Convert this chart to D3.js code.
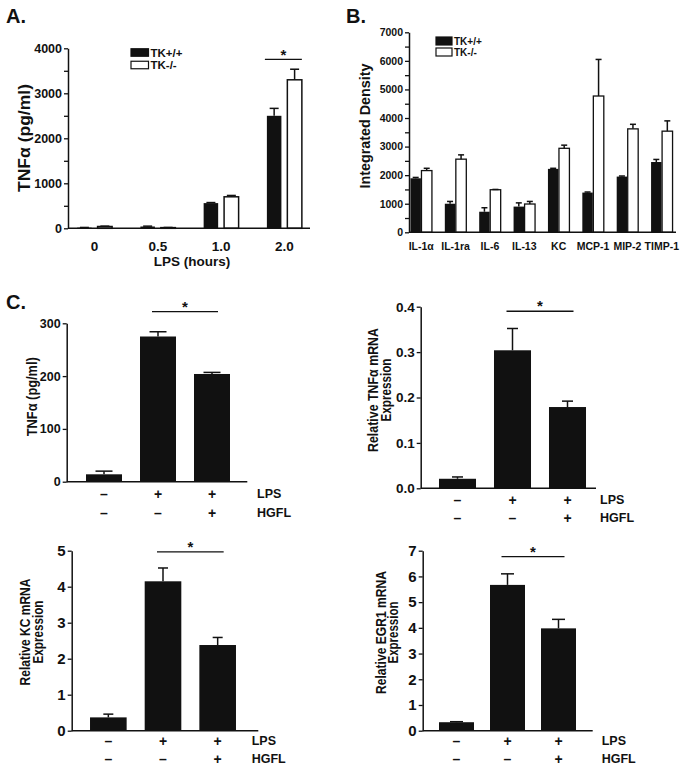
<!DOCTYPE html>
<html><head><meta charset="utf-8">
<script src="https://cdn.jsdelivr.net/npm/d3@7"></script>
<style>
html,body{margin:0;padding:0;background:#fff;}
svg{display:block;}
text{font-family:Arial,'Liberation Sans',Helvetica,sans-serif;font-weight:bold;fill:#111;}
</style></head>
<body>
<svg id="fig" width="686" height="772"></svg>
<script>
// ---------- DATA ----------
// Panel A
const aCategories = ["0", "0.5", "1.0", "2.0"];
const aSeries = ["TK+/+", "TK-/-"];
const aWT = [15, 40, 560, 2500];
const aWTErr = [4, 8, 12, 165];
const aKO = [40, 15, 700, 3300];
const aKOErr = [8, 4, 30, 235];
const aYTicks = [0, 1000, 2000, 3000, 4000];
const aYMinor = [500, 1500, 2500, 3500];
const aSig = [3756];

// Panel B
const bCategories = ["IL-1α", "IL-1ra", "IL-6", "IL-13", "KC", "MCP-1", "MIP-2", "TIMP-1"];
const bWT = [1890, 1000, 720, 900, 2220, 1390, 1950, 2460];
const bWTErr = [30, 80, 140, 130, 20, 20, 20, 90];
const bKO = [2160, 2560, 1490, 990, 2940, 4770, 3620, 3540];
const bKOErr = [80, 150, 10, 90, 110, 1280, 160, 360];
const bYTicks = [0, 1000, 2000, 3000, 4000, 5000, 6000, 7000];
const bYMinor = [500, 1500, 2500, 3500, 4500, 5500, 6500];

// Panel C
const cLPS = ["–", "+", "+"];
const cHGFL = ["–", "–", "+"];
const c1Values = [14, 275, 204];
const c1Err = [6, 9, 3];
const c1Ticks = [0, 100, 200, 300];
const c1Sig = [322];
const c2Values = [0.021, 0.304, 0.179];
const c2Err = [0.004, 0.048, 0.013];
const c2Ticks = [0.0, 0.1, 0.2, 0.3, 0.4];
const c2Sig = [0.39];
const c3Values = [0.37, 4.15, 2.38];
const c3Err = [0.09, 0.37, 0.21];
const c3Ticks = [0, 1, 2, 3, 4, 5];
const c3Sig = [4.97];
const c4Values = [0.33, 5.67, 3.98];
const c4Err = [0.02, 0.43, 0.35];
const c4Ticks = [0, 1, 2, 3, 4, 5, 6, 7];
const c4Sig = [6.77];

// ---------- DRAWING ----------
const svg = d3.select("#fig");
const INK = "#111";

function yAxis(g, y, axX, ticks, fmt, fs, minor) {
  const ax = g.append("g").attr("transform", `translate(${axX},0)`)
    .call(d3.axisLeft(y).tickValues(ticks).tickFormat(fmt).tickSize(4).tickSizeOuter(0).tickPadding(2));
  ax.select(".domain").attr("stroke", INK).attr("stroke-width", 1.5);
  ax.selectAll(".tick line").attr("stroke", INK).attr("stroke-width", 1.3);
  ax.selectAll(".tick text").style("font-size", fs + "px").attr("fill", INK)
    .style("font-family", "Arial,'Liberation Sans',sans-serif").style("font-weight", "bold");
  if (minor) {
    const mx = g.append("g").attr("transform", `translate(${axX},0)`)
      .call(d3.axisLeft(y).tickValues(minor).tickFormat("").tickSize(4).tickSizeOuter(0));
    mx.select(".domain").remove();
    mx.selectAll(".tick line").attr("stroke", INK).attr("stroke-width", 1.3);
  }
}
function xLine(g, y, x1, x2) {
  g.append("line").attr("x1", x1).attr("x2", x2).attr("y1", y(0)).attr("y2", y(0))
    .attr("stroke", INK).attr("stroke-width", 1.5);
}
function errBar(g, cx, y, v, e, capW) {
  g.append("line").attr("x1", cx).attr("x2", cx).attr("y1", y(v)).attr("y2", y(v + e))
    .attr("stroke", INK).attr("stroke-width", 1.5);
  g.append("line").attr("x1", cx - capW / 2).attr("x2", cx + capW / 2).attr("y1", y(v + e)).attr("y2", y(v + e))
    .attr("stroke", INK).attr("stroke-width", 1.5);
}
function rotLabel(g, lines, cx, cy, fs, gap, lens) {
  lines.forEach((t, i) => {
    const el = g.append("text").attr("transform", `translate(${cx + i * gap},${cy}) rotate(-90)`)
      .attr("text-anchor", "middle").attr("dominant-baseline", "central")
      .style("font-size", fs + "px").text(t);
    if (lens && lens[i]) el.attr("textLength", lens[i]).attr("lengthAdjust", "spacingAndGlyphs");
  });
}
function panelLetter(t, x, y) {
  svg.append("text").attr("x", x).attr("y", y).style("font-size", "20px").text(t);
}
function legend(g, x, y1, y2, fs, bw, bh) {
  [[y1, INK, aSeries[0]], [y2, "#fff", aSeries[1]]].forEach(([yy, fill, lab]) => {
    g.append("rect").attr("x", x).attr("y", yy - bh / 2).attr("width", bw).attr("height", bh)
      .attr("fill", fill).attr("stroke", INK).attr("stroke-width", 1.2);
    g.append("text").attr("x", x + bw + 2).attr("y", yy).attr("dominant-baseline", "central")
      .style("font-size", fs + "px").text(lab);
  });
}

// ===== Panel A =====
(function () {
  const g = svg.append("g");
  panelLetter("A.", 6, 23);
  const y = d3.scaleLinear().domain([0, 4000]).range([228.3, 48.3]);
  const x0 = d3.scaleBand().domain(aCategories).range([63, 316]).paddingInner(0.447).paddingOuter(0.2235);
  const x1 = d3.scaleBand().domain(aSeries).range([0, x0.bandwidth()]).paddingInner(0.29);
  yAxis(g, y, 68, aYTicks, d3.format("d"), 12.5, aYMinor);
  aCategories.forEach((c, i) => {
    const bx = x0(c) + x1(aSeries[0]), wx = x0(c) + x1(aSeries[1]), w = x1.bandwidth();
    g.append("rect").attr("x", bx).attr("y", y(aWT[i])).attr("width", w).attr("height", y(0) - y(aWT[i])).attr("fill", INK);
    g.append("rect").attr("x", wx).attr("y", y(aKO[i])).attr("width", w).attr("height", y(0) - y(aKO[i]))
      .attr("fill", "#fff").attr("stroke", INK).attr("stroke-width", 1.5);
    errBar(g, bx + w / 2, y, aWT[i], aWTErr[i], 9);
    errBar(g, wx + w / 2, y, aKO[i], aKOErr[i], 9);
    g.append("text").attr("x", x0(c) + x0.bandwidth() / 2).attr("y", 250.5).attr("text-anchor", "middle")
      .style("font-size", "13.5px").text(c);
  });
  xLine(g, y, 68, 310);
  const c = aCategories[3];
  g.append("line").attr("x1", x0(c) - 2).attr("x2", x0(c) + x0.bandwidth()).attr("y1", y(aSig[0])).attr("y2", y(aSig[0]))
    .attr("stroke", INK).attr("stroke-width", 1.3);
  g.append("text").attr("x", x0(c) + x0.bandwidth() / 2 - 1).attr("y", y(aSig[0]) + 1).attr("text-anchor", "middle")
    .style("font-size", "15px").text("*");
  legend(g, 131, 52.5, 65, 11.5, 17.5, 7.5);
  rotLabel(g, ["TNFα (pg/ml)"], 24, 138, 17, 0, [108]);
  g.append("text").attr("x", 192).attr("y", 266).attr("text-anchor", "middle").style("font-size", "13.5px").text("LPS (hours)");
})();

// ===== Panel B =====
(function () {
  const g = svg.append("g");
  panelLetter("B.", 346, 23);
  const y = d3.scaleLinear().domain([0, 7000]).range([232.3, 32.3]);
  const x0 = d3.scaleBand().domain(bCategories).range([404, 679]).paddingInner(0.375).paddingOuter(0.1875);
  const x1 = d3.scaleBand().domain(aSeries).range([0, x0.bandwidth()]).paddingInner(0.05);
  yAxis(g, y, 409, bYTicks, d3.format("d"), 10.5, bYMinor);
  bCategories.forEach((c, i) => {
    const bx = x0(c) + x1(aSeries[0]), wx = x0(c) + x1(aSeries[1]), w = x1.bandwidth();
    g.append("rect").attr("x", bx).attr("y", y(bWT[i])).attr("width", w).attr("height", y(0) - y(bWT[i])).attr("fill", INK);
    g.append("rect").attr("x", wx).attr("y", y(bKO[i])).attr("width", w).attr("height", y(0) - y(bKO[i]))
      .attr("fill", "#fff").attr("stroke", INK).attr("stroke-width", 1.3);
    errBar(g, bx + w / 2, y, bWT[i], bWTErr[i], 6);
    errBar(g, wx + w / 2, y, bKO[i], bKOErr[i], 6);
    g.append("text").attr("x", x0(c) + x0.bandwidth() / 2).attr("y", 250).attr("text-anchor", "middle")
      .style("font-size", "10.5px").text(c);
  });
  xLine(g, y, 409, 676);
  legend(g, 436, 41, 52, 10, 16, 8);
  rotLabel(g, ["Integrated Density"], 365, 126, 14.5, 0, [125]);
})();

// ===== Panel C =====
function cPanel(cfg) {
  const g = svg.append("g");
  const idx = [0, 1, 2];
  const y = d3.scaleLinear().domain(cfg.domain).range([cfg.y0, cfg.y1]);
  const p = cfg.pad;
  const x = d3.scaleBand().domain(idx).range(cfg.xr).paddingInner(p).paddingOuter(p / 2);
  yAxis(g, y, cfg.axX, cfg.ticks, cfg.fmt, cfg.tfs, null);
  idx.forEach(i => {
    g.append("rect").attr("x", x(i)).attr("y", y(cfg.values[i])).attr("width", x.bandwidth())
      .attr("height", y(0) - y(cfg.values[i])).attr("fill", INK);
    errBar(g, x(i) + x.bandwidth() / 2, y, cfg.values[i], cfg.err[i], cfg.cap);
    g.append("text").attr("x", x(i) + x.bandwidth() / 2).attr("y", y(0) + cfg.r1).attr("text-anchor", "middle")
      .attr("dominant-baseline", "central").style("font-size", "14px").text(cLPS[i]);
    g.append("text").attr("x", x(i) + x.bandwidth() / 2).attr("y", y(0) + cfg.r2).attr("text-anchor", "middle")
      .attr("dominant-baseline", "central").style("font-size", "14px").text(cHGFL[i]);
  });
  xLine(g, y, cfg.axX, cfg.xEnd);
  const cA = x(1) + x.bandwidth() / 2, cB = x(2) + x.bandwidth() / 2;
  g.append("line").attr("x1", cA - 6).attr("x2", cB + 6).attr("y1", y(cfg.sig[0])).attr("y2", y(cfg.sig[0]))
    .attr("stroke", INK).attr("stroke-width", 1.3);
  g.append("text").attr("x", (cA + cB) / 2).attr("y", y(cfg.sig[0])).attr("text-anchor", "middle")
    .style("font-size", "15px").text("*");
  g.append("text").attr("x", cfg.labX).attr("y", y(0) + cfg.r1).attr("dominant-baseline", "central")
    .style("font-size", "12.5px").text("LPS");
  g.append("text").attr("x", cfg.labX).attr("y", y(0) + cfg.r2).attr("dominant-baseline", "central")
    .style("font-size", "12.5px").text("HGFL");
  rotLabel(g, cfg.ylab, cfg.ylx, cfg.yly, cfg.yfs, cfg.ygap, cfg.ylen);
}
panelLetter("C.", 6, 309);
cPanel({domain: [0, 300], y0: 481.7, y1: 323.3, xr: [77, 239], pad: 1 / 3, axX: 66.7, xEnd: 247.3,
  ticks: c1Ticks, fmt: d3.format("d"), tfs: 12.5, values: c1Values, err: c1Err, cap: 17, sig: c1Sig,
  r1: 12.3, r2: 31.6, labX: 257, ylab: ["TNFα (pg/ml)"], ylx: 31.7, yly: 396.7, yfs: 14, ygap: 0, ylen: [79]});
cPanel({domain: [0, 0.4], y0: 488.3, y1: 306.7, xr: [430, 595], pad: 0.327, axX: 420.7, xEnd: 596,
  ticks: c2Ticks, fmt: d3.format(".1f"), tfs: 13.5, values: c2Values, err: c2Err, cap: 11, sig: c2Sig,
  r1: 11.7, r2: 30, labX: 600, ylab: ["Relative TNFα mRNA", "Expression"], ylx: 373.3, yly: 390, yfs: 14, ygap: 12.5, ylen: [124, 63]});
cPanel({domain: [0, 5], y0: 730.7, y1: 550.7, xr: [81, 245], pad: 0.33, axX: 71.7, xEnd: 258.3,
  ticks: c3Ticks, fmt: d3.format("d"), tfs: 15, values: c3Values, err: c3Err, cap: 10, sig: c3Sig,
  r1: 10, r2: 28.6, labX: 251.7, ylab: ["Relative KC mRNA", "Expression"], ylx: 25, yly: 632, yfs: 14, ygap: 13, ylen: [107, 63]});
cPanel({domain: [0, 7], y0: 730.7, y1: 550.7, xr: [431, 584], pad: 0.314, axX: 422.7, xEnd: 592.7,
  ticks: c4Ticks, fmt: d3.format("d"), tfs: 15, values: c4Values, err: c4Err, cap: 13, sig: c4Sig,
  r1: 10, r2: 28.6, labX: 601.7, ylab: ["Relative EGR1 mRNA", "Expression"], ylx: 380.7, yly: 632.5, yfs: 14, ygap: 12.6, ylen: [123, 62]});
</script>
</body></html>
